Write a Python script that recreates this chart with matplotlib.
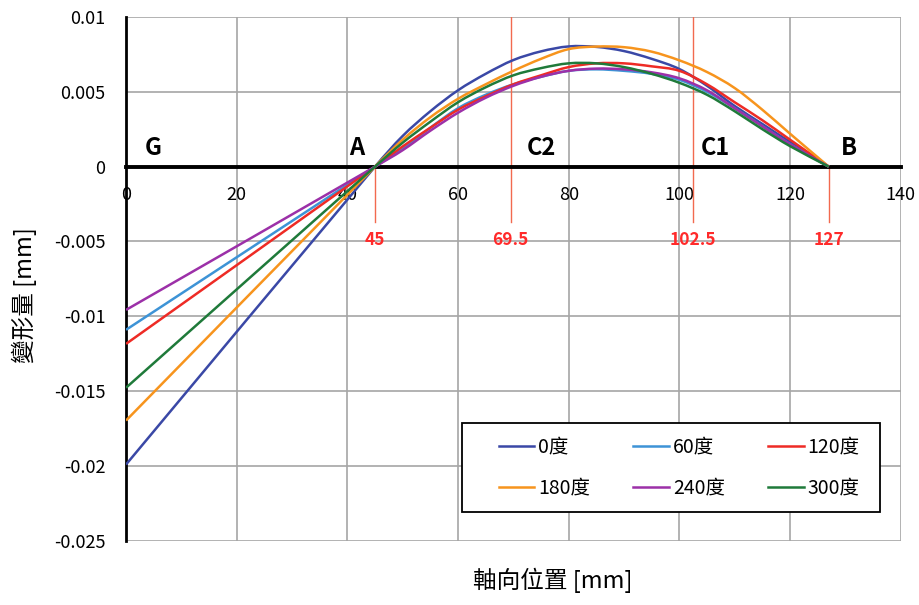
import matplotlib
matplotlib.use("Agg")
import matplotlib.pyplot as plt
import numpy as np
from matplotlib.path import Path
from matplotlib.patches import PathPatch, Rectangle
from matplotlib.lines import Line2D

plt.rcParams['font.family'] = ['Noto Sans CJK TC', 'DejaVu Sans']

# axial position [mm]
pos = [0, 45, 50, 55, 60, 65, 70, 75, 80, 85, 90, 95, 100, 105, 110, 115, 120, 127]

# deflection [mm] per angle
d0 = [-0.0199, 0, 0.00205, 0.0037, 0.0051, 0.0062, 0.00712, 0.0077, 0.00803, 0.0080,
      0.00772, 0.0072, 0.00652, 0.0054, 0.00405, 0.00285, 0.00165, 0]
d60 = [-0.0109, 0, 0.0012, 0.0026, 0.0039, 0.0048, 0.0055, 0.0060, 0.0064, 0.0065,
       0.0064, 0.0062, 0.0058, 0.0050, 0.0039, 0.0027, 0.0015, 0]
d120 = [-0.01184, 0, 0.00135, 0.0026, 0.0038, 0.0047, 0.0055, 0.0061, 0.00665, 0.0069,
        0.0069, 0.0067, 0.0064, 0.0055, 0.0043, 0.0031, 0.0018, 0]
d180 = [-0.01696, 0, 0.0018, 0.0033, 0.00453, 0.0055, 0.0064, 0.0072, 0.00785, 0.00802,
        0.00798, 0.00768, 0.0071, 0.00632, 0.00525, 0.0038, 0.0022, 0]
d240 = [-0.00957, 0, 0.0011, 0.0024, 0.0036, 0.0046, 0.0054, 0.0060, 0.0064, 0.00655,
        0.0065, 0.0063, 0.0059, 0.0051, 0.0039, 0.0027, 0.0015, 0]
d300 = [-0.01477, 0, 0.0016, 0.0030, 0.0043, 0.0053, 0.0061, 0.00658, 0.0069, 0.0069,
        0.00665, 0.0062, 0.0056, 0.0048, 0.0037, 0.0025, 0.00137, 0]

series = [d0, d60, d120, d180, d240, d300]
labels = ['0度', '60度', '120度', '180度', '240度', '300度']
colors = ['#3A48A6', '#3D93D6', '#EE2B25', '#F7941D', '#9C30A8', '#1F7A3A']

# support / bearing points
points = ['G', 'A', 'C2', 'C1', 'B']
point_x = [4.9, 41.6, 75, 106.6, 130.6]
marks = [45, 69.5, 102.5, 127]
mark_top = [0, 0.01, 0.01, 0]


def smooth_path(x, y):
    # Excel-style smoothed line: cubic Bezier through the data points
    x = np.asarray(x, float)
    y = np.asarray(y, float)
    n = len(x)
    m = np.zeros(n)
    m[0] = (y[1] - y[0]) / (x[1] - x[0])
    m[-1] = (y[-1] - y[-2]) / (x[-1] - x[-2])
    for i in range(1, n - 1):
        m[i] = (y[i + 1] - y[i - 1]) / (x[i + 1] - x[i - 1])
    verts = [(x[0], y[0])]
    codes = [Path.MOVETO]
    for i in range(n - 1):
        h = (x[i + 1] - x[i]) / 3
        verts += [(x[i] + h, y[i] + m[i] * h),
                  (x[i + 1] - h, y[i + 1] - m[i + 1] * h),
                  (x[i + 1], y[i + 1])]
        codes += [Path.CURVE4] * 3
    return Path(verts, codes)


fig = plt.figure(figsize=(9.2, 6.05), dpi=100)
ax = fig.add_axes([0.137, 0.106, 0.842, 0.866])

handles = []
for d, lab, c in zip(series, labels, colors):
    ax.add_patch(PathPatch(smooth_path(pos, d), fill=False, edgecolor=c, lw=1.8,
                           zorder=3))
    handles.append(Line2D([], [], color=c, lw=1.8, label=lab))

for m, t in zip(marks, mark_top):
    ax.plot([m, m], [t, -0.00373], color='#F26A4F', lw=1.0, zorder=2)
    ax.text(m, -0.0049, str(m), color='#FF2A2A', fontsize=12.5, fontweight='bold',
            ha='center', va='center')

for p, px in zip(points, point_x):
    ax.text(px, 0.00127, p, color='black', fontsize=17, fontweight='bold',
            ha='center', va='center')

ax.set_xlim(0, 140)
ax.set_ylim(-0.025, 0.01)
ax.set_xticks(np.arange(0, 141, 20))
ax.set_yticks(np.arange(-0.025, 0.0101, 0.005))
ax.set_yticklabels(['-0.025', '-0.02', '-0.015', '-0.01', '-0.005', '0', '0.005', '0.01'])
ax.grid(True, color='#A6A6A6', lw=1.2, zorder=0)
ax.set_axisbelow(True)

ax.spines['top'].set_visible(False)
ax.spines['right'].set_visible(False)
ax.spines['bottom'].set_position(('data', 0))
ax.spines['bottom'].set_linewidth(2.8)
ax.spines['bottom'].set_zorder(2.5)
ax.spines['left'].set_linewidth(2.0)
ax.tick_params(axis='x', length=0, pad=14, labelsize=13)
ax.tick_params(axis='y', length=0, pad=15, labelsize=13)

# legend frame drawn separately, entries row-wise (0,60,120 / 180,240,300)
ax.add_patch(Rectangle((0.4335, 0.055), 0.54, 0.17, transform=ax.transAxes,
                       facecolor='white', edgecolor='black', lw=1.3, zorder=4))
order = [0, 3, 1, 4, 2, 5]
leg = ax.legend([handles[i] for i in order], [labels[i] for i in order],
                loc='center', bbox_to_anchor=(0.714, 0.140), ncol=3, fontsize=14,
                frameon=False, handlelength=1.85, handletextpad=0.2,
                labelspacing=1.05, columnspacing=2.2)
leg.set_zorder(5)

fig.text(0.026, 0.512, '變形量 [mm]', rotation=90, fontsize=17, ha='center', va='center')
fig.text(0.601, 0.041, '軸向位置 [mm]', fontsize=17, ha='center', va='center')

fig.savefig('out.png', dpi=100)
